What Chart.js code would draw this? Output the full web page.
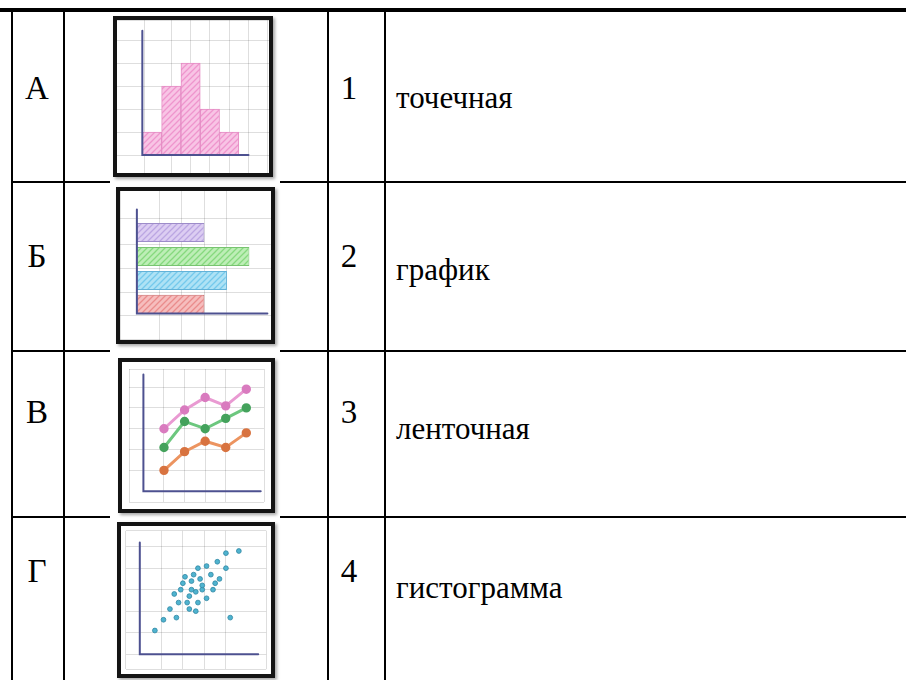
<!DOCTYPE html>
<html>
<head>
<meta charset="utf-8">
<script src="https://cdn.jsdelivr.net/npm/chart.js@4.4.1/dist/chart.umd.min.js"></script>
<style>
  html, body { margin: 0; padding: 0; background: #fff; font-family: 'Liberation Serif', serif; }
  #page { position: relative; width: 906px; height: 680px; overflow: hidden; background: #fff; font-family: 'Liberation Serif', serif; }
  .ln { position: absolute; background: #000; }
  .txt { position: absolute; line-height: 1; white-space: nowrap; color: #000; font-family: 'Liberation Serif', serif; }
  .icon { position: absolute; box-sizing: border-box; border: 4px solid #141414; background: #fff; box-shadow: 2px 2px 3px rgba(0,0,0,0.35); }
  .icon canvas { display: block; }
</style>
</head>
<body>
<div id="page"><div id="texts"></div></div>
<script>
// table text
const rowLetters = ['А', 'Б', 'В', 'Г'];
const rowNumbers = ['1', '2', '3', '4'];
const chartNames = ['точечная', 'график', 'ленточная', 'гистограмма'];

// A: histogram (bins of width 1)
const histBins = [0.5, 1.5, 2.5, 3.5, 4.5];
const histCounts = [1, 3, 4, 2, 1];

// Б: horizontal bars, top to bottom: purple, green, blue, red
const hbarRows = [4, 3, 2, 1];
const hbarValues = [3, 5, 4, 3];

// В: three lines
const lineX = [1, 2, 3, 4, 5];
const linePink = [3.0, 3.9, 4.5, 4.1, 4.9];
const lineGreen = [2.1, 3.35, 3.0, 3.5, 4.0];
const lineOrange = [1.0, 1.9, 2.4, 2.1, 2.8];

// Г: scatter
const scatterX = [0.7, 1.1, 1.7, 1.4, 1.8, 1.6, 1.9, 2.2, 2.3, 2.6, 2.7, 2.3, 2.6, 2.9, 3.1, 2.4, 2.0,
                  2.1, 2.5, 2.4, 2.8, 3.3, 3.5, 3.7, 3.4, 2.7, 3.1, 3.6, 4.0, 4.0, 4.6, 4.2, 2.9];
const scatterY = [1.1, 1.6, 1.7, 2.1, 2.4, 2.8, 3.0, 2.4, 2.1, 2.0, 2.4, 2.7, 2.9, 3.0, 2.6, 3.0, 3.3,
                  3.6, 3.7, 3.4, 3.5, 3.7, 3.3, 3.5, 3.0, 4.0, 4.1, 4.3, 4.0, 4.7, 4.8, 1.7, 3.2];

const page = document.getElementById('page');

function line(x, y, w, h) {
  const d = document.createElement('div');
  d.className = 'ln';
  d.style.left = x + 'px'; d.style.top = y + 'px';
  d.style.width = w + 'px'; d.style.height = h + 'px';
  page.appendChild(d);
}

// table rules
line(0, 8, 906, 4);
[11, 63, 327, 384].forEach(x => line(x, 10, 2, 670));
[181, 350, 516].forEach(y => { line(11, y, 99, 2); line(280, y, 626, 2); });

// table text, placed by baseline
let html = '';
function text(str, x, baseline, size, width) {
  const top = Math.round(baseline - 0.8375 * size);
  const w = width ? `width:${width}px;text-align:center;` : '';
  html += `<div class="txt" style="font-family:'Liberation Serif';font-size:${size}px;left:${x}px;top:${top}px;${w}">${str}</div>`;
}
const letterBase = [100, 268, 424, 583];
const nameBase = [108, 280, 439, 598];
rowLetters.forEach((s, i) => text(s, 11, letterBase[i], 33, 52));
rowNumbers.forEach((s, i) => text(s, 327, letterBase[i], 33, 44));
chartNames.forEach((s, i) => text(s, 396, nameBase[i], 31));
document.getElementById('texts').innerHTML = html;

// icon frames
function icon(x, y, w, h) {
  const d = document.createElement('div');
  d.className = 'icon';
  d.style.left = x + 'px'; d.style.top = y + 'px';
  d.style.width = w + 'px'; d.style.height = h + 'px';
  const c = document.createElement('canvas');
  c.width = w - 8; c.height = h - 8;
  d.appendChild(c);
  page.appendChild(d);
  return c;
}

function hatch(base, stroke) {
  const c = document.createElement('canvas');
  c.width = c.height = 6;
  const g = c.getContext('2d');
  g.fillStyle = base; g.fillRect(0, 0, 6, 6);
  g.strokeStyle = stroke; g.lineWidth = 1.3;
  g.beginPath();
  g.moveTo(0, 6); g.lineTo(6, 0);
  g.moveTo(-3, 3); g.lineTo(3, -3);
  g.moveTo(3, 9); g.lineTo(9, 3);
  g.stroke();
  return g.createPattern(c, 'repeat');
}

const GRID = 'rgba(0,0,0,0.13)';
const AXIS = '#4d5190';

function scale(min, max) {
  return {
    type: 'linear', min: min, max: max,
    ticks: { display: false, stepSize: 1 },
    grid: { color: GRID, lineWidth: 1, drawTicks: false },
    border: { display: false }
  };
}

// axis lines at the data origin
const axisLines = {
  id: 'axisLines',
  afterDatasetsDraw(chart, args, opts) {
    const { ctx, scales: { x, y } } = chart;
    const ox = x.getPixelForValue(opts.x0), oy = y.getPixelForValue(opts.y0);
    ctx.save();
    ctx.strokeStyle = AXIS; ctx.lineWidth = 2; ctx.lineCap = 'round';
    ctx.beginPath();
    ctx.moveTo(ox, y.getPixelForValue(opts.yEnd));
    ctx.lineTo(ox, oy);
    ctx.lineTo(x.getPixelForValue(opts.xEnd), oy);
    ctx.stroke();
    ctx.restore();
  }
};

function opts(xr, yr, ax, extra) {
  return Object.assign({
    responsive: false,
    animation: false,
    events: [],
    layout: { padding: 0 },
    plugins: { legend: { display: false }, tooltip: { enabled: false }, axisLines: ax },
    scales: { x: scale(xr[0], xr[1]), y: scale(yr[0], yr[1]) }
  }, extra || {});
}

// А — histogram
new Chart(icon(113, 16, 160, 161), {
  type: 'bar',
  data: {
    datasets: [{
      data: histBins.map((b, i) => ({ x: b, y: histCounts[i] })),
      backgroundColor: hatch('#f8c4e5', '#ef95cd'),
      borderColor: '#e58cc4',
      borderWidth: 1,
      barPercentage: 1,
      categoryPercentage: 1
    }]
  },
  options: opts([-0.75, 6], [-0.78, 5.87], { x0: 0, y0: 0, xEnd: 5.5, yEnd: 5.4 }),
  plugins: [axisLines]
});

// Б — horizontal bars
new Chart(icon(116, 187, 159, 157), {
  type: 'bar',
  data: {
    datasets: [{
      data: hbarRows.map((r, i) => ({ x: hbarValues[i], y: r })),
      backgroundColor: [
        hatch('#dccdf2', '#bba6e2'),
        hatch('#bdeeb6', '#86d97e'),
        hatch('#aee2f5', '#74c9ec'),
        hatch('#f6bdbd', '#ea8c8c')
      ],
      borderColor: ['#9d8cc9', '#78c470', '#62b2d8', '#c96767'],
      borderWidth: 1,
      barPercentage: 0.82,
      categoryPercentage: 1
    }]
  },
  options: opts([-0.75, 5.96], [0.03, 5.22], { x0: 0, y0: 0.62, xEnd: 5.8, yEnd: 4.97 }, { indexAxis: 'y' }),
  plugins: [axisLines]
});

// В — line chart
const lineSet = (vals, color, point) => ({
  data: lineX.map((x, i) => ({ x: x, y: vals[i] })),
  borderColor: color,
  borderWidth: 3,
  pointRadius: 3.2,
  pointBackgroundColor: point,
  pointBorderColor: point,
  tension: 0
});
new Chart(icon(118, 358, 157, 155), {
  type: 'line',
  data: {
    datasets: [
      lineSet(linePink, '#e99ad2', '#d97bbf'),
      lineSet(lineGreen, '#6cc77e', '#44a25c'),
      lineSet(lineOrange, '#ec9460', '#d87340')
    ]
  },
  options: opts([-0.7, 5.86], [-0.52, 5.87], { x0: 0, y0: 0, xEnd: 5.7, yEnd: 5.6 }),
  plugins: [axisLines]
});

// Г — scatter
new Chart(icon(117, 522, 158, 156), {
  type: 'scatter',
  data: {
    datasets: [{
      data: scatterX.map((x, i) => ({ x: x, y: scatterY[i] })),
      pointRadius: 2.4,
      backgroundColor: '#4fb3cf',
      borderColor: '#2f87a3',
      borderWidth: 0.8
    }]
  },
  options: opts([-0.65, 5.87], [-0.7, 5.74], { x0: 0, y0: 0, xEnd: 5.5, yEnd: 5.2 }),
  plugins: [axisLines]
});
</script>
</body>
</html>
